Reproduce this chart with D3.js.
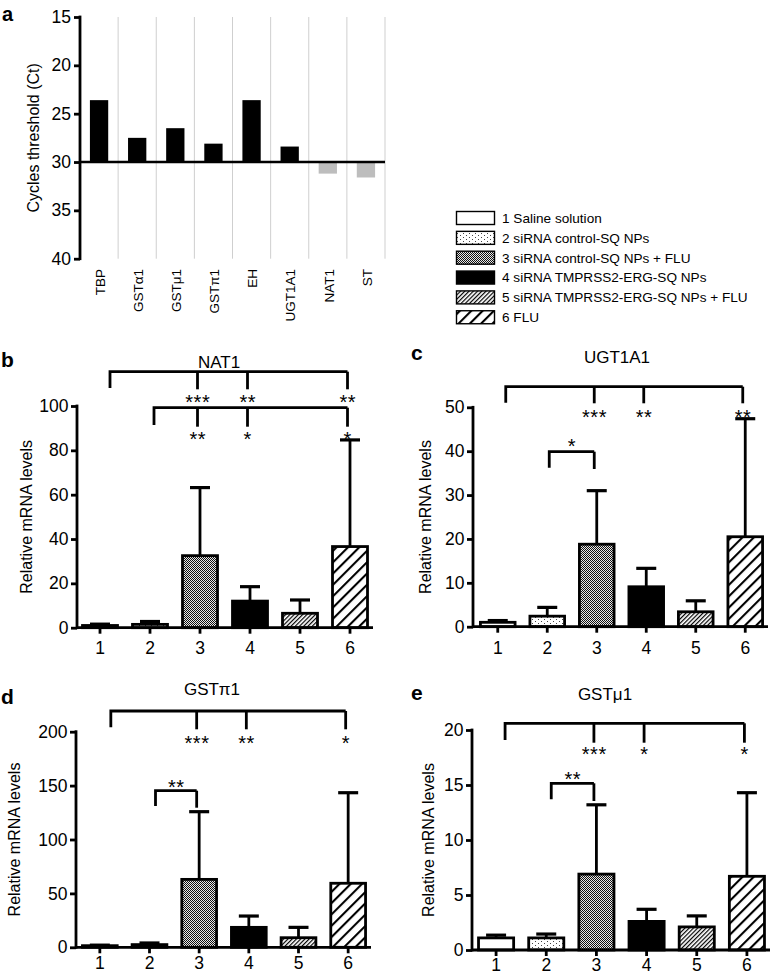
<!DOCTYPE html>
<html><head><meta charset="utf-8">
<script src="https://cdn.jsdelivr.net/npm/d3@7"></script>
<style>
body{margin:0;background:#fff}
svg{display:block;font-family:"Liberation Sans",Arial,Helvetica,sans-serif}
</style>
</head><body>
<svg id="chart" width="776" height="976"></svg>
<script>
// ---------------- DATA ----------------
const ctGenes = ["TBP", "GSTα1", "GSTμ1", "GSTπ1", "EH", "UGT1A1", "NAT1", "ST"];
const ctValues = [23.6, 27.5, 26.5, 28.1, 23.6, 28.4, 31.2, 31.6];
const ctTicks = [15, 20, 25, 30, 35, 40];
const ctThreshold = 30;

const groups = ["1", "2", "3", "4", "5", "6"];
const groupNames = [
  "1 Saline solution",
  "2 siRNA control-SQ NPs",
  "3 siRNA control-SQ NPs + FLU",
  "4 siRNA TMPRSS2-ERG-SQ NPs",
  "5 siRNA TMPRSS2-ERG-SQ NPs + FLU",
  "6 FLU"
];

const nat1Mean = [1.0, 1.5, 32.5, 12.0, 6.5, 36.6];
const nat1Sd   = [0.6, 1.3, 30.7, 6.5, 6.0, 48.1];
const ugt1a1Mean = [1.0, 2.4, 18.8, 9.1, 3.4, 20.5];
const ugt1a1Sd   = [0.4, 2.0, 12.2, 4.2, 2.5, 26.9];
const gstpi1Mean = [1.5, 2.5, 63.0, 18.5, 8.9, 59.4];
const gstpi1Sd   = [0.5, 1.5, 62.8, 10.5, 9.6, 84.0];
const gstmu1Mean = [1.1, 1.1, 6.9, 2.6, 2.1, 6.7];
const gstmu1Sd   = [0.25, 0.35, 6.3, 1.1, 1.0, 7.6];

const nat1Stats = [
  {from: "1", to: ["3", "4", "6"], stars: ["***", "**", "**"]},
  {from: "2", to: ["3", "4", "6"], stars: ["**", "*", "*"]}
];
const ugt1a1Stats = [
  {from: "1", to: ["3", "4", "6"], stars: ["***", "**", "**"]},
  {from: "2", to: ["3"], stars: ["*"]}
];
const gstpi1Stats = [
  {from: "1", to: ["3", "4", "6"], stars: ["***", "**", "*"]},
  {from: "2", to: ["3"], stars: ["**"]}
];
const gstmu1Stats = [
  {from: "1", to: ["3", "4", "6"], stars: ["***", "*", "*"]},
  {from: "2", to: ["3"], stars: ["**"]}
];

// ---------------- SETUP ----------------
const svg = d3.select("#chart");
const SW = 2.8;
const FONT = '"Liberation Sans",Arial,Helvetica,sans-serif';
const defs = svg.append("defs");

// patterns
const fills = ["#fff", "url(#pDots)", "url(#pMesh)", "#000", "url(#pFine)", "url(#pWide)"];
{
  const p2 = defs.append("pattern").attr("id", "pDots").attr("patternUnits", "userSpaceOnUse")
    .attr("width", 6).attr("height", 4);
  p2.append("rect").attr("width", 6).attr("height", 4).attr("fill", "#fff");
  p2.append("rect").attr("x", 1).attr("y", 1).attr("width", 1).attr("height", 1).attr("fill", "#444");
  p2.append("rect").attr("x", 4).attr("y", 3).attr("width", 1).attr("height", 1).attr("fill", "#444");

  const p3 = defs.append("pattern").attr("id", "pMesh").attr("patternUnits", "userSpaceOnUse")
    .attr("width", 2).attr("height", 2);
  p3.append("rect").attr("width", 2).attr("height", 2).attr("fill", "#e8e8e8");
  p3.append("rect").attr("width", 1).attr("height", 1).attr("fill", "#111");
  p3.append("rect").attr("x", 1).attr("y", 1).attr("width", 1).attr("height", 1).attr("fill", "#111");

  const p5 = defs.append("pattern").attr("id", "pFine").attr("patternUnits", "userSpaceOnUse")
    .attr("width", 3).attr("height", 3).attr("patternTransform", "rotate(45)");
  p5.append("rect").attr("width", 3).attr("height", 3).attr("fill", "#fff");
  p5.append("line").attr("x1", 0.6).attr("y1", 0).attr("x2", 0.6).attr("y2", 3)
    .attr("stroke", "#000").attr("stroke-width", 1.2);

  const p6 = defs.append("pattern").attr("id", "pWide").attr("patternUnits", "userSpaceOnUse")
    .attr("width", 8).attr("height", 8).attr("patternTransform", "rotate(45)");
  p6.append("rect").attr("width", 8).attr("height", 8).attr("fill", "#fff");
  p6.append("line").attr("x1", 1).attr("y1", 0).attr("x2", 1).attr("y2", 8)
    .attr("stroke", "#000").attr("stroke-width", 2.2);
}

function styleAxis(g, fontSize) {
  g.select(".domain").remove();
  g.selectAll(".tick line").attr("stroke", "#000").attr("stroke-width", SW);
  g.selectAll(".tick text").attr("fill", "#000").attr("font-size", fontSize)
    .attr("font-family", FONT);
}

// ---------------- PANEL A ----------------
{
  const g = svg.append("g");
  const x = d3.scaleBand().domain(ctGenes).range([80, 385]).paddingInner(0.52).paddingOuter(0.26);
  const y = d3.scaleLinear().domain([15, 40]).range([17, 258.7]);
  const step = x.step();

  g.selectAll("line.grid").data(ctGenes).join("line")
    .attr("x1", d => x(d) - step * 0.26 + step).attr("x2", d => x(d) - step * 0.26 + step)
    .attr("y1", y(15)).attr("y2", y(40))
    .attr("stroke", "#cfcfcf").attr("stroke-width", 1);

  g.selectAll("rect.ct").data(ctGenes).join("rect")
    .attr("x", d => x(d)).attr("width", x.bandwidth())
    .attr("y", (d, i) => Math.min(y(ctValues[i]), y(ctThreshold)))
    .attr("height", (d, i) => Math.abs(y(ctValues[i]) - y(ctThreshold)))
    .attr("fill", (d, i) => ctValues[i] > ctThreshold ? "#bdbdbd" : "#000");

  g.append("line").attr("x1", 80).attr("x2", 385)
    .attr("y1", y(ctThreshold)).attr("y2", y(ctThreshold))
    .attr("stroke", "#000").attr("stroke-width", 2.5);

  const ax = g.append("g").attr("transform", "translate(80,0)")
    .call(d3.axisLeft(y).tickValues(ctTicks).tickSize(6).tickPadding(3).tickSizeOuter(0));
  styleAxis(ax, 17.5);
  g.append("line").attr("x1", 80).attr("x2", 80).attr("y1", y(15) - 1.4).attr("y2", y(40) + 1.4)
    .attr("stroke", "#000").attr("stroke-width", SW);

  g.selectAll("text.gene").data(ctGenes).join("text")
    .attr("transform", d => `translate(${x(d) + x.bandwidth() / 2 + 1},269) rotate(-90)`)
    .attr("text-anchor", "end").attr("dy", "0.35em")
    .attr("font-size", 13.5).text(d => d);

  g.append("text").attr("transform", `translate(39,${(y(15) + y(40)) / 2}) rotate(-90)`)
    .attr("text-anchor", "middle").attr("font-size", 16).text("Cycles threshold (Ct)");

  g.append("text").attr("x", 2).attr("y", 21).attr("font-size", 20).attr("font-weight", "bold").text("a");
}

// ---------------- LEGEND ----------------
{
  const g = svg.append("g");
  groupNames.forEach((name, i) => {
    const cy = 218 + 19.85 * i;
    g.append("rect").attr("x", 456.5).attr("y", cy - 6.5).attr("width", 38).attr("height", 13)
      .attr("fill", fills[i]).attr("stroke", "#000").attr("stroke-width", 1.4);
    g.append("text").attr("x", 502).attr("y", cy + 4.8).attr("font-size", 13.6).text(name);
  });
}

// ---------------- BAR PANELS ----------------
const panels = [
  {label: "b", title: "NAT1", mean: nat1Mean, sd: nat1Sd, stats: nat1Stats,
   yMax: 100, yStep: 20, axisX: 77, yTop: 406, y0: 627.7, xRange: [75, 375],
   titleX: 219, titleY: 367.5, labelX: 1, labelY: 367, tickCenterY: 648, yLabelX: 32,
   br: [
     {kind: "comb", lineY: 371.7, leftEnd: 388, dropEnd: 389.3, starY: 398, leftOff: 10},
     {kind: "comb", lineY: 407.7, leftEnd: 425, dropEnd: 426.7, starY: 435, leftOff: 4}
   ]},
  {label: "c", title: "UGT1A1", mean: ugt1a1Mean, sd: ugt1a1Sd, stats: ugt1a1Stats,
   yMax: 50, yStep: 10, axisX: 473, yTop: 407.3, y0: 626.7, xRange: [473, 770],
   titleX: 617, titleY: 362.5, labelX: 411, labelY: 360, tickCenterY: 648, yLabelX: 431,
   br: [
     {kind: "comb", lineY: 386.7, leftEnd: 402.7, dropEnd: 403.3, starY: 412.7, leftOff: 8},
     {kind: "pair", lineY: 451.7, leftEnd: 467.7, dropEnd: 469, starY: 441.7, leftOff: 2}
   ]},
  {label: "d", title: "GSTπ1", mean: gstpi1Mean, sd: gstpi1Sd, stats: gstpi1Stats,
   yMax: 200, yStep: 50, axisX: 76, yTop: 731.7, y0: 947.3, xRange: [75, 373],
   titleX: 212, titleY: 695, labelX: 1, labelY: 704, tickCenterY: 963, yLabelX: 20,
   br: [
     {kind: "comb", lineY: 711, leftEnd: 727.3, dropEnd: 729.3, starY: 738.3, leftOff: 11},
     {kind: "pair", lineY: 790.7, leftEnd: 806, dropEnd: 807.7, starY: 782.7, leftOff: 6}
   ]},
  {label: "e", title: "GSTμ1", mean: gstmu1Mean, sd: gstmu1Sd, stats: gstmu1Stats,
   yMax: 20, yStep: 5, axisX: 472, yTop: 730, y0: 950, xRange: [471, 772],
   titleX: 605, titleY: 700, labelX: 411, labelY: 700, tickCenterY: 965, yLabelX: 434,
   br: [
     {kind: "comb", lineY: 723.3, leftEnd: 740, dropEnd: 742.7, starY: 750, leftOff: 9},
     {kind: "pair", lineY: 783.3, leftEnd: 799.3, dropEnd: 801, starY: 775, leftOff: 5}
   ]}
];

function starText(g, x, cy, s) {
  g.append("text").attr("x", x + 0.3).attr("y", cy + 11.2)
    .attr("text-anchor", "middle").attr("font-size", 20).attr("letter-spacing", 0.6)
    .text(s);
}

panels.forEach(p => {
  const g = svg.append("g");
  const x = d3.scaleBand().domain(groups).range(p.xRange).paddingInner(0.3).paddingOuter(0.15);
  const y = d3.scaleLinear().domain([0, p.yMax]).range([p.y0, p.yTop]);
  const cx = d => x(d) + x.bandwidth() / 2;
  const idx = groups.map((d, i) => i);

  // error bars
  g.selectAll("line.err").data(idx).join("line")
    .attr("x1", i => cx(groups[i])).attr("x2", i => cx(groups[i]))
    .attr("y1", i => y(p.mean[i])).attr("y2", i => y(p.mean[i] + p.sd[i]))
    .attr("stroke", "#000").attr("stroke-width", SW);
  g.selectAll("line.cap").data(idx).join("line")
    .attr("x1", i => cx(groups[i]) - 10).attr("x2", i => cx(groups[i]) + 10)
    .attr("y1", i => y(p.mean[i] + p.sd[i])).attr("y2", i => y(p.mean[i] + p.sd[i]))
    .attr("stroke", "#000").attr("stroke-width", SW + 0.4);

  // bars
  g.selectAll("rect.bar").data(idx).join("rect")
    .attr("x", i => x(groups[i])).attr("width", x.bandwidth())
    .attr("y", i => y(p.mean[i])).attr("height", i => p.y0 - y(p.mean[i]))
    .attr("fill", i => fills[i]).attr("stroke", "#000").attr("stroke-width", SW);

  // y axis
  const ya = g.append("g").attr("transform", `translate(${p.axisX},0)`)
    .call(d3.axisLeft(y).tickValues(d3.range(0, p.yMax + 0.001, p.yStep)).tickSize(6).tickPadding(2.5));
  styleAxis(ya, 17.5);
  g.append("line").attr("x1", p.axisX).attr("x2", p.axisX).attr("y1", p.yTop - 1.4).attr("y2", p.y0 + 1.4)
    .attr("stroke", "#000").attr("stroke-width", SW);

  // x axis
  const xa = g.append("g").attr("transform", `translate(0,${p.y0})`)
    .call(d3.axisBottom(x).tickSize(6).tickPadding(p.tickCenterY - p.y0 - 6 - 6.2));
  styleAxis(xa, 17.5);
  g.append("line").attr("x1", p.axisX).attr("x2", p.xRange[1] - 2).attr("y1", p.y0).attr("y2", p.y0)
    .attr("stroke", "#000").attr("stroke-width", SW);

  // titles & labels
  g.append("text").attr("x", p.titleX).attr("y", p.titleY).attr("text-anchor", "middle")
    .attr("font-size", 17).text(p.title);
  g.append("text").attr("x", p.labelX).attr("y", p.labelY).attr("font-size", 21)
    .attr("font-weight", "bold").text(p.label);
  g.append("text").attr("transform", `translate(${p.yLabelX},${(p.yTop + p.y0) / 2}) rotate(-90)`)
    .attr("text-anchor", "middle").attr("font-size", 16).text("Relative mRNA levels");

  // significance brackets
  p.stats.forEach((s, k) => {
    const L = p.br[k];
    const x0 = cx(s.from) + L.leftOff;
    const drops = s.to.map(t => cx(t) - 2.5);
    const xEnd = d3.max(drops);
    const bg = g.append("g").attr("fill", "none").attr("stroke", "#000").attr("stroke-width", SW);
    bg.append("path").attr("d", `M${x0},${L.leftEnd}V${L.lineY}H${xEnd}`);
    drops.forEach(dx => bg.append("line").attr("x1", dx).attr("x2", dx)
      .attr("y1", L.lineY).attr("y2", L.dropEnd));
    if (L.kind === "comb") {
      s.to.forEach((t, j) => starText(g, drops[j], L.starY, s.stars[j]));
    } else {
      starText(g, (x0 + xEnd) / 2, L.starY, s.stars[0]);
    }
  });
});
</script>
</body></html>
